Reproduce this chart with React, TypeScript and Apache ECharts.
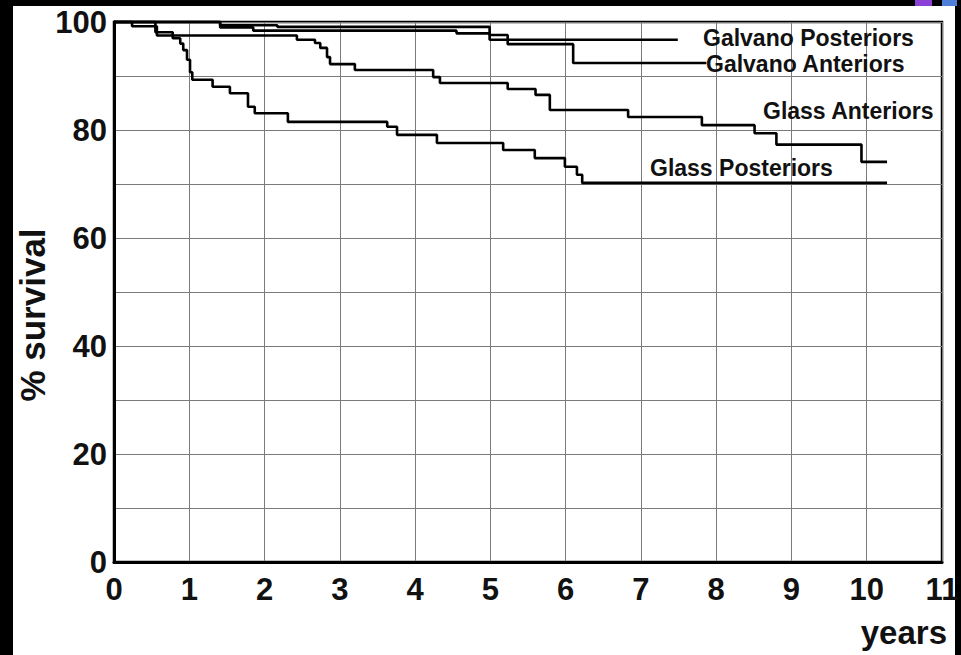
import React, { useEffect, useRef } from "react";
import * as echarts from "echarts";

// Kaplan-Meier style survival curves: [years, % survival]
const galvanoPosteriors: [number, number][] = [
  [0, 100], [1.41, 99.4], [2.17, 99.1], [4.99, 97.6], [5.23, 96.7], [7.49, 96.7],
];
const galvanoAnteriors: [number, number][] = [
  [0, 100], [1.41, 99.0], [1.85, 98.4], [4.55, 97.9], [4.99, 96.7], [5.23, 95.9],
  [6.1, 92.4], [7.87, 92.4],
];
const glassAnteriors: [number, number][] = [
  [0, 100], [0.24, 99.2], [0.57, 97.5], [2.43, 96.7], [2.67, 96.1], [2.74, 95.2],
  [2.83, 93.5], [2.87, 92.2], [3.2, 91.1], [4.24, 89.8], [4.33, 88.7], [5.23, 87.6],
  [5.6, 86.5], [5.79, 83.7], [6.83, 82.4], [7.81, 80.9], [8.51, 79.4], [8.8, 77.3],
  [9.93, 74.1], [10.27, 74.1],
];
const glassPosteriors: [number, number][] = [
  [0, 100], [0.55, 98.1], [0.78, 97.0], [0.88, 96.0], [0.92, 94.8], [0.97, 93.0],
  [1.01, 90.7], [1.04, 89.3], [1.31, 88.0], [1.54, 86.8], [1.78, 84.3], [1.87, 83.1],
  [2.31, 81.5], [3.63, 80.6], [3.76, 79.1], [4.29, 77.6], [5.17, 76.3], [5.59, 74.8],
  [5.99, 73.2], [6.15, 71.7], [6.22, 70.2], [10.27, 70.2],
];

const seriesNames = ["Galvano Posteriors", "Galvano Anteriors", "Glass Anteriors", "Glass Posteriors"];
const seriesData = [galvanoPosteriors, galvanoAnteriors, glassAnteriors, glassPosteriors];

const xMin = 0;
const xMax = 11;
const yMin = 0;
const yMax = 100;
const yLabelTicks = [0, 20, 40, 60, 80, 100];

const FONT = "'Liberation Sans', Arial, Helvetica, sans-serif";

export default function App() {
  const ref = useRef<HTMLDivElement>(null);

  useEffect(() => {
    const chart = echarts.init(ref.current!, null, { renderer: "svg" });
    const labelStyle = (text: string, x: number, y: number) => ({
      type: "text",
      x,
      y,
      z: 50,
      style: {
        text,
        fill: "#111",
        font: `bold 23px ${FONT}`,
        align: "left",
        verticalAlign: "middle",
      },
    });
    chart.setOption({
      animation: false,
      backgroundColor: "#000",
      grid: {
        left: 114,
        right: 19,
        top: 22,
        bottom: 93,
        show: true,
        borderColor: "#000",
        borderWidth: 2.5,
        backgroundColor: "transparent",
        containLabel: false,
        outerBoundsMode: "none",
      },
      xAxis: {
        type: "value",
        min: xMin,
        max: xMax,
        interval: 1,
        axisLine: { show: true, onZero: false, lineStyle: { color: "#000", width: 3 } },
        axisTick: { show: false },
        splitLine: { show: true, lineStyle: { color: "#7a7a7a", width: 1 } },
        axisLabel: {
          color: "#111",
          fontFamily: FONT,
          fontWeight: "bold",
          fontSize: 31,
          margin: 12,
        },
      },
      yAxis: {
        type: "value",
        min: yMin,
        max: yMax,
        interval: 10,
        axisLine: { show: true, onZero: false, lineStyle: { color: "#000", width: 3 } },
        axisTick: { show: false },
        splitLine: { show: true, lineStyle: { color: "#7a7a7a", width: 1 } },
        axisLabel: {
          color: "#111",
          fontFamily: FONT,
          fontWeight: "bold",
          fontSize: 31,
          margin: 7,
          formatter: (v: number) => (yLabelTicks.includes(v) ? String(v) : ""),
        },
      },
      series: seriesData.map((d, i) => ({
        name: seriesNames[i],
        type: "line",
        step: "end",
        data: d,
        showSymbol: false,
        symbol: "none",
        clip: false,
        z: 10,
        lineStyle: { color: "#000", width: 2.6 },
      })),
      graphic: [
        {
          type: "rect",
          z: -100,
          silent: true,
          shape: { x: 13, y: 6, width: 942, height: 649 },
          style: { fill: "#fff" },
        },
        {
          type: "rect",
          z: -50,
          silent: true,
          shape: { x: 915, y: 0, width: 17, height: 6 },
          style: { fill: "#8a3fd6" },
        },
        {
          type: "rect",
          z: -50,
          silent: true,
          shape: { x: 942, y: 0, width: 15, height: 6 },
          style: { fill: "#4f7fd8" },
        },
        labelStyle("Galvano Posteriors", 703, 38),
        labelStyle("Galvano Anteriors", 706, 64),
        labelStyle("Glass Anteriors", 763, 111),
        labelStyle("Glass Posteriors", 650, 168),
        {
          type: "text",
          x: 32,
          y: 315,
          rotation: Math.PI / 2,
          z: 50,
          style: {
            text: "% survival",
            fill: "#111",
            font: `bold 35px ${FONT}`,
            align: "center",
            verticalAlign: "middle",
          },
        },
        {
          type: "text",
          x: 947,
          y: 632,
          z: 50,
          style: {
            text: "years",
            fill: "#111",
            font: `bold 33px ${FONT}`,
            align: "right",
            verticalAlign: "middle",
          },
        },
      ],
    });
    return () => chart.dispose();
  }, []);

  return (
    <div
      ref={ref}
      style={{ position: "fixed", left: 0, top: 0, width: 961, height: 655 }}
    />
  );
}
